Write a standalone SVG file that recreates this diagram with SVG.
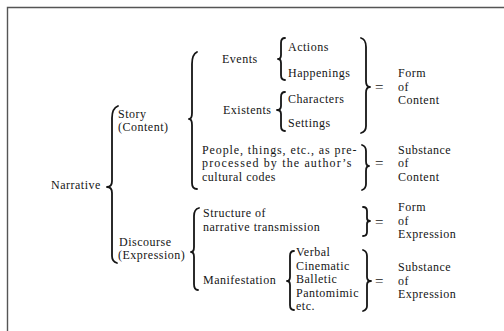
<svg xmlns="http://www.w3.org/2000/svg" width="504" height="331" viewBox="0 0 504 331">
<style>
text{font-family:"Liberation Serif","Times New Roman",serif;font-size:12px;letter-spacing:0.5px;fill:#151515}
.eq{font-size:15px}
.br{fill:none;stroke:#151515;stroke-width:1.8;stroke-linecap:round;stroke-linejoin:round}
.frame{fill:none;stroke:#555;stroke-width:1.4}
</style>
<rect width="504" height="331" fill="#fff"/>
<path class="frame" d="M7.5,331 V7.5 H504"/>
<g id="narrative"><text x="51" y="189">Narrative</text></g>
<g id="story"><text x="118" y="117.5">Story<tspan x="118" y="131">(Content)</tspan></text></g>
<g id="discourse"><text x="119" y="245.5">Discourse<tspan x="118" y="259">(Expression)</tspan></text></g>
<g id="events"><text x="222" y="62.5">Events</text></g>
<g id="actions"><text x="288" y="50.5">Actions</text></g>
<g id="happenings"><text x="288" y="76.5">Happenings</text></g>
<g id="existents"><text x="223" y="113.5">Existents</text></g>
<g id="characters"><text x="288" y="102.5">Characters</text></g>
<g id="settings"><text x="288" y="126.5">Settings</text></g>
<g id="people"><text x="202" y="153.5"><tspan x="202" y="153.5" textLength="155" lengthAdjust="spacing">People, things, etc., as pre-</tspan><tspan x="202" y="167" textLength="150" lengthAdjust="spacing">processed by the author’s</tspan><tspan x="202" y="180.5">cultural codes</tspan></text></g>
<g id="structure"><text x="203" y="216.5">Structure of<tspan x="203" y="230.5">narrative transmission</tspan></text></g>
<g id="manifestation"><text x="203" y="283.5">Manifestation</text></g>
<g id="media"><text x="296" y="256">Verbal<tspan x="296" y="269.5">Cinematic</tspan><tspan x="296" y="283">Balletic</tspan><tspan x="296" y="296.5">Pantomimic</tspan><tspan x="296" y="310">etc.</tspan></text></g>
<g id="form-content"><text class="eq" x="375" y="92">=</text><text x="398" y="77">Form<tspan x="398" y="90.5">of</tspan><tspan x="398" y="104">Content</tspan></text></g>
<g id="substance-content"><text class="eq" x="375" y="168">=</text><text x="398" y="153.5">Substance<tspan x="398" y="167">of</tspan><tspan x="398" y="180.5">Content</tspan></text></g>
<g id="form-expression"><text class="eq" x="375" y="227">=</text><text x="398" y="211">Form<tspan x="398" y="224.5">of</tspan><tspan x="398" y="238">Expression</tspan></text></g>
<g id="substance-expression"><text class="eq" x="375" y="286">=</text><text x="398" y="271">Substance<tspan x="398" y="284.5">of</tspan><tspan x="398" y="298">Expression</tspan></text></g>
<g id="connectors">
<path class="br" d="M118,106 C113,108 112,112 112,118 L112,181 C112,185 110,187 107,187 C110,187 112,189 112,193 L112,256 C112,260 114,262 117,263"/>
<path class="br" d="M197,52 C193,54 192,58 192,64 L192,113 C192,116 191,119 189,119 C191,119 192,122 192,125 L192,183 C192,187 194,189 197,189"/>
<path class="br" d="M285,38 C282,38 281,40 281,43 L281,55 C281,57 280,59 278,59 C280,59 281,61 281,63 L281,75 C281,78 282,80 285,80"/>
<path class="br" d="M285,92 C282,92 281,94 281,97 L281,106 C281,108 280,110 277,110 C280,110 281,112 281,114 L281,126 C281,129 282,131 285,131"/>
<path class="br" d="M361,38 C365,39 366,42 366,47 L366,81 C366,85 367,87 370,87 C367,87 366,89 366,93 L366,126 C366,130 365,132 361,133"/>
<path class="br" d="M362,145 C365,146 366,148 366,151 L366,161 C366,164 367,166 369,166 C367,166 366,168 366,171 L366,184 C366,187 365,189 362,190"/>
<path class="br" d="M199,208 C195,209 194,212 194,216 L194,247 C194,250 193,252 191,252 C193,252 194,254 194,257 L194,284 C194,288 195,290 198,290"/>
<path class="br" d="M363,207 C366,207 367,209 367,211 L367,218 C367,220 368,221 370,221 C368,221 367,222 367,224 L367,232 C367,235 366,236 363,236"/>
<path class="br" d="M294,251 C291,251 290,253 290,256 L290,277 C290,279 289,281 287,281 C289,281 290,283 290,285 L290,305 C290,308 291,310 294,310"/>
<path class="br" d="M363,250 C366,251 367,253 367,256 L367,277 C367,279 368,281 371,281 C368,281 367,283 367,285 L367,306 C367,309 366,310 363,311"/>
</g>
</svg>
